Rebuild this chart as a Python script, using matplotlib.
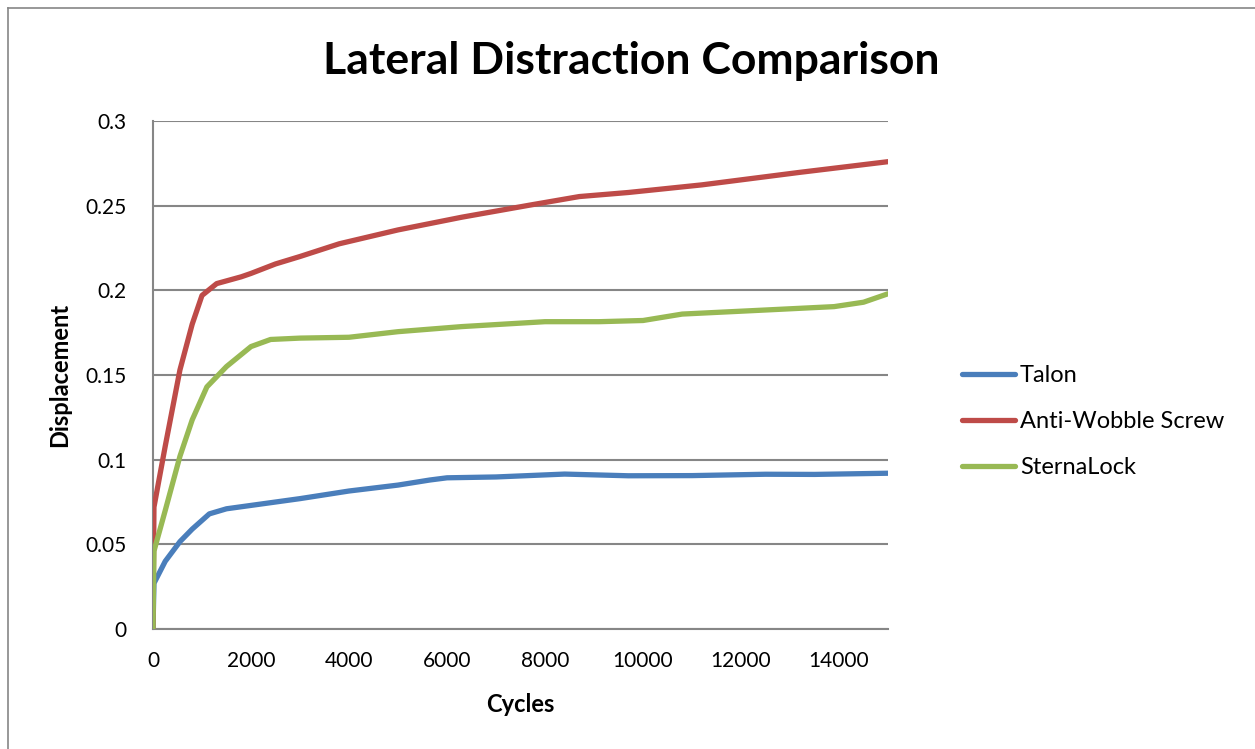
import matplotlib
matplotlib.use("Agg")
import matplotlib.pyplot as plt
from matplotlib.lines import Line2D

# values
talon_cycles = [0, 20, 250, 550, 800, 1150, 1500, 2000, 3000, 4000, 5000, 5650,
                6000, 7000, 8400, 9700, 11000, 12500, 13500, 15000]
talon_disp = [0, 0.027, 0.040, 0.0516, 0.059, 0.068, 0.071, 0.073, 0.077, 0.0815,
              0.085, 0.088, 0.0893, 0.0898, 0.0915, 0.0905, 0.0906, 0.0914, 0.0913, 0.092]

aws_cycles = [0, 20, 250, 550, 800, 1000, 1300, 1800, 2000, 2500, 3000, 3800, 5000,
              6300, 7700, 8700, 9700, 11200, 13200, 15000]
aws_disp = [0, 0.072, 0.108, 0.153, 0.180, 0.197, 0.204, 0.208, 0.210, 0.2156, 0.220,
            0.2275, 0.2357, 0.2432, 0.2504, 0.2554, 0.2578, 0.2623, 0.2697, 0.276]

sl_cycles = [0, 20, 250, 550, 800, 1100, 1500, 2000, 2400, 3000, 4000, 5000, 6300,
             8000, 9100, 10000, 10800, 12500, 13900, 14500, 15000]
sl_disp = [0, 0.046, 0.070, 0.102, 0.1235, 0.143, 0.155, 0.1668, 0.171, 0.1718, 0.1723,
           0.1756, 0.1786, 0.1815, 0.1815, 0.1822, 0.186, 0.1884, 0.1904, 0.193, 0.198]

labels = ["Talon", "Anti-Wobble Screw", "SternaLock"]
colors = ["#4A7EBB", "#BE4B48", "#98B954"]
x_ticks = [0, 2000, 4000, 6000, 8000, 10000, 12000, 14000]
y_ticks = [0, 0.05, 0.1, 0.15, 0.2, 0.25, 0.3]

plt.rcParams['font.family'] = ['Lato', 'DejaVu Sans']

fig = plt.figure(figsize=(12.55, 7.49), dpi=100)
ax = fig.add_axes([0.1219, 0.1602, 0.7076 - 0.1219, 0.8384 - 0.1602])

series = [(talon_cycles, talon_disp), (aws_cycles, aws_disp), (sl_cycles, sl_disp)]
for (xs, ys), lab, col in zip(series, labels, colors):
    ax.plot(xs, ys, color=col, lw=3.8, label=lab,
            solid_joinstyle='round', solid_capstyle='round', zorder=3)

ax.set_xlim(0, 15000)
ax.set_ylim(0, 0.3)
ax.set_xticks(x_ticks)
ax.set_xticklabels([str(t) for t in x_ticks])
ax.set_yticks(y_ticks)
ax.set_yticklabels(["0", "0.05", "0.1", "0.15", "0.2", "0.25", "0.3"])
ax.tick_params(length=0, labelsize=15)
ax.tick_params(axis='y', pad=19)
ax.tick_params(axis='x', pad=16)
ax.grid(axis='y', color='#868686', lw=1.5)
ax.set_axisbelow(True)
for s in ['top', 'right']:
    ax.spines[s].set_visible(False)
for s in ['left', 'bottom']:
    ax.spines[s].set_color('#868686')
    ax.spines[s].set_linewidth(1.5)

ax.set_xlabel("Cycles", fontsize=17, fontweight='bold', labelpad=16)
ax.set_ylabel("Displacement", fontsize=17, fontweight='bold', labelpad=10)
fig.text(0.503, 0.918, "Lateral Distraction Comparison", fontsize=32,
         fontweight='bold', ha='center', va='center')

fig.legend(loc='center left', bbox_to_anchor=(962 / 1255, 0.437), frameon=False,
           fontsize=17, handlelength=2.25, handletextpad=0.2, labelspacing=1.05,
           borderpad=0, borderaxespad=0)

# chart area border (top and left edges visible)
fig.add_artist(Line2D([8 / 1255, 1], [1 - 8 / 749, 1 - 8 / 749],
                      transform=fig.transFigure, color='#868686', lw=1.2))
fig.add_artist(Line2D([8 / 1255, 8 / 1255], [0, 1 - 8 / 749],
                      transform=fig.transFigure, color='#868686', lw=1.2))

fig.savefig("out.png", dpi=100)
